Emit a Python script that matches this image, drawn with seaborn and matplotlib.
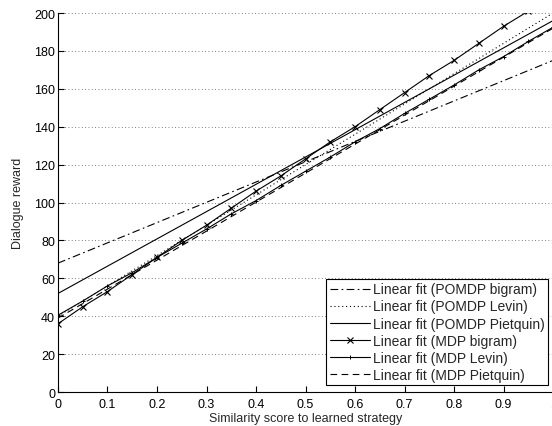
import numpy as np
import pandas as pd
import matplotlib
matplotlib.use("Agg")
import matplotlib.pyplot as plt
import seaborn as sns

# Fitted lines (x = similarity score, y = dialogue reward)
x_ends = [0.0, 1.0]
pomdp_bigram = [68, 175]
pomdp_levin = [40, 200]
pomdp_pietquin = [52, 196]
mdp_pietquin = [39, 192]

# marker lines, sampled every 0.05
x_steps = [0.0, 0.05, 0.1, 0.15, 0.2, 0.25, 0.3, 0.35, 0.4, 0.45, 0.5,
           0.55, 0.6, 0.65, 0.7, 0.75, 0.8, 0.85, 0.9, 0.95, 1.0]
mdp_bigram = [36, 45, 53, 62, 71, 80, 88, 97, 106, 114, 123,
              132, 140, 149, 158, 167, 175, 184, 193, 201, 210]
mdp_levin = [40.5, 48, 56, 63, 71, 78.5, 86, 94, 101, 109, 116.5,
             124, 132, 139, 147, 154.5, 162, 170, 177, 185, 192.5]

sns.set_style("white")
plt.rcParams['font.family'] = ['Liberation Sans', 'DejaVu Sans']
plt.rcParams['font.size'] = 9

fig = plt.figure(figsize=(5.52, 4.27), dpi=100)
ax = fig.add_axes([0.105, 0.0796, 0.897, 0.8876])

lw = 0.8
sns.lineplot(x=x_ends, y=pomdp_bigram, ax=ax, color='black', lw=lw,
             linestyle=(0, (7, 3, 1.5, 3)), label='Linear fit (POMDP bigram)')
sns.lineplot(x=x_ends, y=pomdp_levin, ax=ax, color='black', lw=lw,
             linestyle=(0, (1, 2.5)), label='Linear fit (POMDP Levin)')
sns.lineplot(x=x_ends, y=pomdp_pietquin, ax=ax, color='black', lw=lw,
             linestyle='-', label='Linear fit (POMDP Pietquin)')
sns.lineplot(x=x_steps, y=mdp_bigram, ax=ax, color='black', lw=lw,
             marker='x', markersize=5, markeredgewidth=0.8,
             markeredgecolor='black', label='Linear fit (MDP bigram)')
sns.lineplot(x=x_steps, y=mdp_levin, ax=ax, color='black', lw=lw,
             marker='+', markersize=3, markeredgewidth=0.7,
             markeredgecolor='black', label='Linear fit (MDP Levin)')
sns.lineplot(x=x_ends, y=mdp_pietquin, ax=ax, color='black', lw=lw,
             linestyle=(0, (6, 4)), label='Linear fit (MDP Pietquin)')

ax.set_xlim(0, 1)
ax.set_ylim(0, 200)
ax.set_xticks(np.arange(0, 1.01, 0.1))
ax.set_xticklabels(['0', '0.1', '0.2', '0.3', '0.4', '0.5', '0.6', '0.7', '0.8', '0.9', '1'])
ax.set_yticks(np.arange(0, 201, 20))
ax.yaxis.grid(True, linestyle=(0, (1, 3)), color='#555555', lw=0.6)
ax.xaxis.grid(False)
ax.tick_params(direction='in', length=4, width=0.8, labelsize=9, pad=2,
               bottom=True, left=True, colors='black')
ax.tick_params(axis='x', pad=4)
for s in ['top', 'right']:
    ax.spines[s].set_visible(False)
for s in ['left', 'bottom']:
    ax.spines[s].set_color('black')
    ax.spines[s].set_linewidth(0.8)

ax.set_xlabel('Similarity score to learned strategy', fontsize=9, labelpad=2)
ax.set_ylabel('Dialogue reward', fontsize=9, labelpad=7)

leg = ax.legend(loc='lower right', bbox_to_anchor=(0.99, 0.018), borderaxespad=0,
                fontsize=10, frameon=True, fancybox=False, framealpha=1,
                edgecolor='black', handlelength=2.9, handletextpad=0.2,
                labelspacing=0.22, borderpad=0.25)
leg.get_frame().set_linewidth(0.8)

fig.savefig('out.png', dpi=100)
